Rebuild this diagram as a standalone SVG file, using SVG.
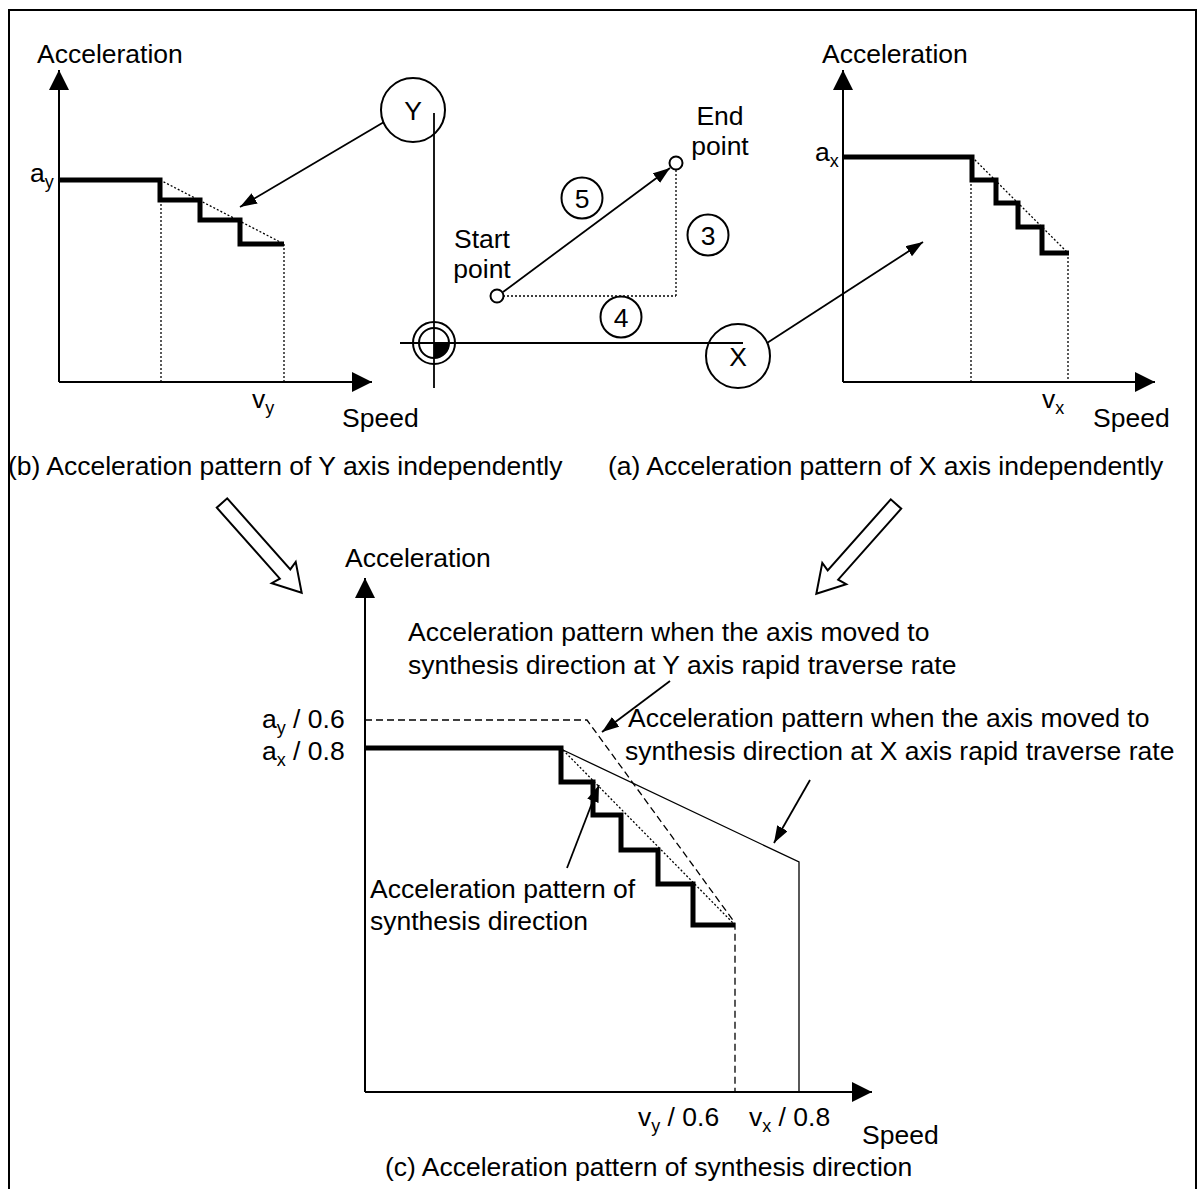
<svg xmlns="http://www.w3.org/2000/svg" width="1203" height="1189" viewBox="0 0 1203 1189">
<style>
.t{font-family:"Liberation Sans",Arial,sans-serif;font-size:26.5px;fill:#000}
.s{font-size:18px}
.m{text-anchor:middle}
.ax{stroke:#000;stroke-width:2;fill:none}
.ln{stroke:#000;stroke-width:1.8;fill:none}
.thin{stroke:#000;stroke-width:1.3;fill:none}
.step{stroke:#000;stroke-width:5;fill:none;stroke-linejoin:miter}
.dot{stroke:#000;stroke-width:1.3;fill:none;stroke-dasharray:2 2}
.dash{stroke:#000;stroke-width:1.3;fill:none;stroke-dasharray:7 4}
.circ{stroke:#000;stroke-width:2;fill:none}
.pt{stroke:#000;stroke-width:2;fill:#fff}
.hollow{stroke:#000;stroke-width:2;fill:#fff;stroke-linejoin:miter}
</style>
<defs>
<marker id="axh" markerUnits="userSpaceOnUse" markerWidth="22" markerHeight="22" refX="20" refY="10" orient="auto"><path d="M0,0 L20,10 L0,20 z" fill="#000"/></marker>
<marker id="ah" markerUnits="userSpaceOnUse" markerWidth="18" markerHeight="14" refX="17" refY="6" orient="auto"><path d="M0,0 L17,6 L0,12 z" fill="#000"/></marker>
</defs>
<rect x="9" y="10" width="1187" height="1200" fill="none" stroke="#000" stroke-width="2"/>

<g id="graph-b">
<line class="ax" x1="59" y1="382" x2="59" y2="70" marker-end="url(#axh)"/>
<line class="ax" x1="59" y1="382" x2="372" y2="382" marker-end="url(#axh)"/>
<line class="dot" x1="160" y1="180" x2="284" y2="244"/>
<line class="dot" x1="161" y1="200" x2="161" y2="382"/>
<line class="dot" x1="284" y1="244" x2="284" y2="382"/>
<path class="step" d="M59,180 H160 V200 H200 V220 H240 V244 H284"/>
<text class="t" x="37" y="63">Acceleration</text>
<text class="t" x="30" y="182">a<tspan class="s" dy="6">y</tspan></text>
<text class="t" x="252" y="408">v<tspan class="s" dy="6">y</tspan></text>
<text class="t" x="342" y="427">Speed</text>
<text class="t" x="8" y="475">(b) Acceleration pattern of Y axis independently</text>
</g>

<g id="graph-a">
<line class="ax" x1="843" y1="382" x2="843" y2="70" marker-end="url(#axh)"/>
<line class="ax" x1="843" y1="382" x2="1155" y2="382" marker-end="url(#axh)"/>
<line class="dot" x1="972" y1="157" x2="1068" y2="253"/>
<line class="dot" x1="971" y1="180" x2="971" y2="382"/>
<line class="dot" x1="1068" y1="253" x2="1068" y2="382"/>
<path class="step" d="M843,157 H972 V180 H996 V203 H1018 V227 H1042 V253 H1069"/>
<text class="t" x="822" y="63">Acceleration</text>
<text class="t" x="815" y="161">a<tspan class="s" dy="6">x</tspan></text>
<text class="t" x="1042" y="408">v<tspan class="s" dy="6">x</tspan></text>
<text class="t" x="1093" y="427">Speed</text>
<text class="t" x="608" y="475">(a) Acceleration pattern of X axis independently</text>
</g>

<g id="xy-plane">
<line class="ln" x1="434" y1="113" x2="434" y2="388"/>
<line class="ln" x1="400" y1="343" x2="743" y2="343"/>
<circle cx="434" cy="343" r="21" fill="none" stroke="#000" stroke-width="2"/>
<circle cx="434" cy="343" r="15" fill="none" stroke="#000" stroke-width="2"/>
<path d="M434,343 H449 A15,15 0 0 1 434,358 z" fill="#000"/>
<line class="dot" x1="503" y1="296" x2="676" y2="296"/>
<line class="dot" x1="676" y1="170" x2="676" y2="296"/>
</g>

<g id="node-y"><circle class="circ" cx="413" cy="110" r="32"/><text class="t m" x="413" y="120">Y</text></g>
<g id="node-x"><circle class="circ" cx="738" cy="356" r="32"/><text class="t m" x="738" y="366">X</text></g>
<g id="node-start"><circle class="pt" cx="497" cy="296" r="6.5"/><text class="t m" x="482" y="248">Start</text><text class="t m" x="482" y="278">point</text></g>
<g id="node-end"><circle class="pt" cx="676" cy="163" r="6.5"/><text class="t m" x="720" y="125">End</text><text class="t m" x="720" y="155">point</text></g>
<g id="num-5"><circle class="circ" cx="582" cy="198" r="20.5"/><text class="t m" x="582" y="208">5</text></g>
<g id="num-3"><circle class="circ" cx="708" cy="235" r="20.5"/><text class="t m" x="708" y="245">3</text></g>
<g id="num-4"><circle class="circ" cx="621" cy="317" r="20.5"/><text class="t m" x="621" y="327">4</text></g>

<g id="graph-c">
<line class="ax" x1="365" y1="1092" x2="365" y2="578" marker-end="url(#axh)"/>
<line class="ax" x1="365" y1="1092" x2="872" y2="1092" marker-end="url(#axh)"/>
<path class="dash" d="M365,720 H587 L735,923 V1092"/>
<path class="thin" d="M563,750 L799,862 V1092"/>
<line class="dot" x1="563" y1="750" x2="733" y2="923"/>
<path class="step" d="M365,748 H561 V782 H593 V815 H621 V850 H658 V884 H693 V925 H735"/>
<text class="t" x="345" y="567">Acceleration</text>
<text class="t" x="262" y="728">a<tspan class="s" dy="6">y</tspan><tspan dy="-6"> / 0.6</tspan></text>
<text class="t" x="262" y="760">a<tspan class="s" dy="6">x</tspan><tspan dy="-6"> / 0.8</tspan></text>
<text class="t" x="638" y="1126">v<tspan class="s" dy="6">y</tspan><tspan dy="-6"> / 0.6</tspan></text>
<text class="t" x="749" y="1126">v<tspan class="s" dy="6">x</tspan><tspan dy="-6"> / 0.8</tspan></text>
<text class="t" x="862" y="1144">Speed</text>
<text class="t" x="385" y="1176">(c) Acceleration pattern of synthesis direction</text>
<text class="t" x="408" y="641">Acceleration pattern when the axis moved to</text>
<text class="t" x="408" y="674">synthesis direction at Y axis rapid traverse rate</text>
<text class="t" x="628" y="727">Acceleration pattern when the axis moved to</text>
<text class="t" x="625" y="760">synthesis direction at X axis rapid traverse rate</text>
<text class="t" x="370" y="898">Acceleration pattern of</text>
<text class="t" x="370" y="930">synthesis direction</text>
</g>

<g id="connectors">
<line class="ln" x1="384" y1="122" x2="240" y2="207" marker-end="url(#ah)"/>
<line class="ln" x1="767" y1="343" x2="923" y2="242" marker-end="url(#ah)"/>
<line class="ln" x1="503" y1="292" x2="670" y2="168" marker-end="url(#ah)"/>
<line class="ln" x1="670" y1="681" x2="602" y2="732" marker-end="url(#ah)"/>
<line class="ln" x1="810" y1="780" x2="774" y2="843" marker-end="url(#ah)"/>
<line class="ln" x1="567" y1="868" x2="599" y2="785" marker-end="url(#ah)"/>
<polygon class="hollow" transform="translate(222,503) rotate(48.4)" points="0,-7 95,-7 93,-16 120,0 93,16 95,7 0,7"/>
<polygon class="hollow" transform="translate(896,504) rotate(131.6)" points="0,-7 95,-7 93,-16 120,0 93,16 95,7 0,7"/>
</g>
</svg>
